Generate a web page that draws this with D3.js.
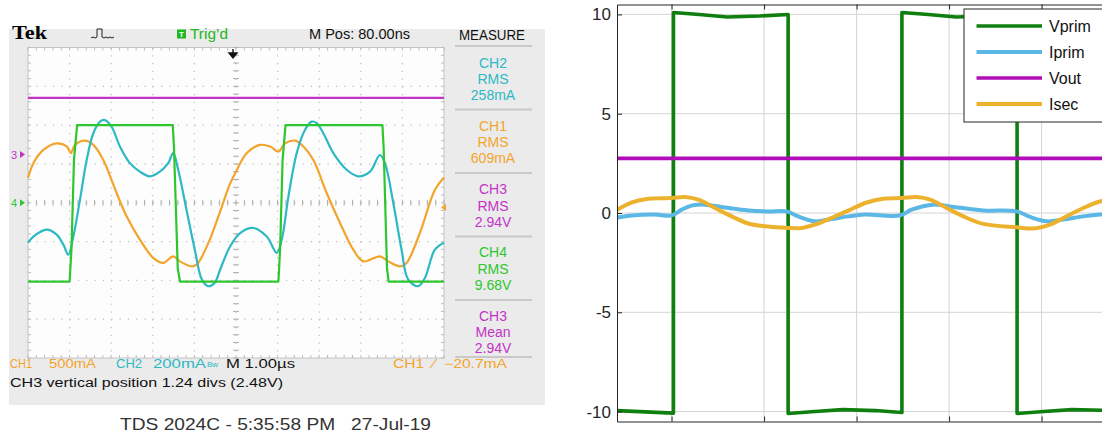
<!DOCTYPE html>
<html>
<head>
<meta charset="utf-8">
<script src="https://cdn.jsdelivr.net/npm/d3@7.9.0/dist/d3.min.js"></script>
<style>
  body { margin: 0; background: #fff; }
  svg { display: block; font-family: "Liberation Sans", Arial, sans-serif; }
  .pre { white-space: pre; }
</style>
</head>
<body>
<svg id="chart" width="1102" height="433"></svg>
<script>
// ---------- scope screenshot (left), values in divisions ----------
const scopeCh3 = [[0, 2.7], [10, 2.7]];
const scopeCh4 = [[0, -2.03], [1.0, -2.03], [1.045, -1.2], [1.105, 1.1], [1.18, 2.0], [3.48, 2.0], [3.51, 1.4],
  [3.6, -1.7], [3.655, -2.03], [6.02, -2.03], [6.06, -1.2], [6.12, 1.1], [6.19, 2.0], [8.52, 2.0], [8.55, 1.4],
  [8.63, -1.7], [8.67, -2.03], [10, -2.03]];
const scopeCh1 = [[0, 0.64], [0.13, 1.02], [0.37, 1.36], [0.69, 1.53], [0.93, 1.45], [1.03, 1.28], [1.13, 1.49],
  [1.37, 1.6], [1.57, 1.49], [1.81, 1.1], [2.13, 0.25], [2.37, -0.35], [2.69, -0.95], [3.01, -1.42], [3.25, -1.55],
  [3.49, -1.38], [3.65, -1.51], [3.97, -1.64], [4.09, -1.55], [4.37, -0.95], [4.62, -0.22], [4.86, 0.5], [5.0, 0.8],
  [5.26, 1.28], [5.58, 1.49], [5.82, 1.45], [6.02, 1.32], [6.18, 1.53], [6.42, 1.6], [6.62, 1.45], [6.86, 1.1],
  [7.18, 0.25], [7.5, -0.52], [7.82, -1.21], [8.06, -1.51], [8.46, -1.38], [8.66, -1.51], [8.94, -1.64], [9.1, -1.55],
  [9.42, -0.78], [9.78, 0.33], [10, 0.65]];
const scopeCh2 = [[0, -1.03], [0.13, -0.87], [0.45, -0.69], [0.69, -0.82], [0.85, -1.08], [0.97, -1.34], [1.09, -0.87],
  [1.25, 0.08], [1.41, 1.1], [1.57, 1.79], [1.73, 2.09], [1.85, 2.13], [2.01, 1.96], [2.21, 1.45], [2.45, 1.02],
  [2.69, 0.8], [2.93, 0.68], [3.17, 0.8], [3.37, 1.02], [3.49, 1.28], [3.61, 0.85], [3.81, -0.18], [4.01, -1.21],
  [4.18, -1.98], [4.33, -2.15], [4.49, -2.06], [4.62, -1.72], [4.86, -1.12], [5.1, -0.78], [5.42, -0.65], [5.74, -0.87],
  [5.98, -1.29], [6.1, -0.95], [6.26, 0.16], [6.46, 1.28], [6.66, 1.88], [6.82, 2.09], [6.94, 2.05], [7.1, 1.79],
  [7.34, 1.28], [7.66, 0.85], [7.94, 0.68], [8.22, 0.8], [8.46, 1.23], [8.58, 1.02], [8.78, 0], [8.98, -1.21],
  [9.14, -1.98], [9.38, -2.15], [9.54, -1.94], [9.78, -1.21], [10, -1.03]];

const measureChannels = ["CH2", "CH1", "CH3", "CH4", "CH3"];
const measureKinds = ["RMS", "RMS", "RMS", "RMS", "Mean"];
const measureValues = ["258mA", "609mA", "2.94V", "9.68V", "2.94V"];

// ---------- simulation (right), time in us ----------
const simVprim = [[0.82, -9.95], [2.04, -10.08], [2.04, 10.1], [2.6, 10.0], [3.2, 9.87], [3.9, 9.92], [4.52, 10.0],
  [4.52, -10.1], [5.1, -10.0], [5.7, -9.9], [6.4, -9.95], [6.98, -10.05], [6.98, 10.1], [7.55, 10.0], [8.15, 9.87],
  [8.85, 9.92], [9.47, 10.0], [9.47, -10.1], [10.05, -10.0], [10.65, -9.9], [11.6, -9.95]];
const simIprim = [[0.78, -0.25], [1.14, -0.13], [1.64, -0.08], [2.0, -0.12], [2.22, 0.17], [2.43, 0.37], [2.72, 0.42],
  [3.15, 0.28], [3.66, 0.13], [4.09, 0.08], [4.49, 0.08], [4.74, -0.17], [5.1, -0.42], [5.46, -0.3], [5.82, -0.17],
  [6.18, -0.08], [6.94, -0.12], [7.19, 0.17], [7.66, 0.42], [8.02, 0.33], [8.74, 0.13], [9.46, 0.08], [9.75, -0.2],
  [10.11, -0.42], [10.47, -0.33], [10.9, -0.17], [11.26, -0.08], [11.6, -0.05]];
const simVout = [[0.82, 2.75], [11.6, 2.75]];
const simIsec = [[0.82, 0.15], [1.14, 0.53], [1.5, 0.72], [2.0, 0.75], [2.29, 0.8], [2.58, 0.67], [2.94, 0.25],
  [3.3, -0.17], [3.66, -0.53], [4.02, -0.67], [4.52, -0.75], [4.81, -0.75], [5.1, -0.58], [5.46, -0.25], [5.82, 0.12],
  [6.22, 0.53], [6.58, 0.72], [6.98, 0.75], [7.3, 0.8], [7.59, 0.67], [7.95, 0.25], [8.31, -0.17], [8.74, -0.55],
  [9.46, -0.72], [9.82, -0.78], [10.18, -0.58], [10.54, -0.17], [10.9, 0.25], [11.26, 0.58], [11.6, 0.75]];
const seriesNames = ["Vprim", "Iprim", "Vout", "Isec"];
const yTicks = [-10, -5, 0, 5, 10];
const xTicks = [2, 4, 6, 8, 10];

// ---------- colours ----------
const scopeColor = { CH1: "#f3a42c", CH2: "#2cb9c4", CH3: "#c234c6", CH4: "#2ec62e" };
const simColor = { Vprim: "#0f7f0f", Iprim: "#5bb8e6", Vout: "#b00cb8", Isec: "#ecb22e" };

const svg = d3.select("#chart");

// ================= LEFT: scope =================
const sx = d3.scaleLinear().domain([0, 10]).range([28, 444]);
const sy = d3.scaleLinear().domain([-4, 4]).range([358, 47.5]);

svg.append("rect").attr("x", 9).attr("y", 29).attr("width", 536).attr("height", 376).attr("fill", "#ebebeb");
svg.append("rect").attr("x", sx(0)).attr("y", sy(4)).attr("width", sx(10) - sx(0)).attr("height", sy(-4) - sy(4))
  .attr("fill", "#fdfdfd").attr("stroke", "#c4c4c4");

const grat = svg.append("g");
const hStep = (sx(1) - sx(0)) / 5, vStep = (sy(-1) - sy(0)) / 5;
grat.selectAll(".vd").data(d3.range(1, 10)).join("line")
  .attr("x1", d => sx(d)).attr("x2", d => sx(d)).attr("y1", sy(4)).attr("y2", sy(-4))
  .attr("stroke", d => d === 5 ? "#a8a8a8" : "#bdbdbd").attr("stroke-width", 1.2)
  .attr("stroke-dasharray", `1.2 ${vStep - 1.2}`);
grat.selectAll(".hd").data(d3.range(-3, 4)).join("line")
  .attr("y1", d => sy(d)).attr("y2", d => sy(d)).attr("x1", sx(0)).attr("x2", sx(10))
  .attr("stroke", d => d === 0 ? "#a8a8a8" : "#bdbdbd").attr("stroke-width", 1.2)
  .attr("stroke-dasharray", `1.2 ${hStep - 1.2}`);
// minor ticks on centre lines and frame
const minorX = d3.range(0, 10.001, 0.2), minorY = d3.range(-4, 4.001, 0.2);
grat.selectAll(".cx").data(minorX).join("line")
  .attr("x1", d => sx(d)).attr("x2", d => sx(d)).attr("y1", sy(0) - 3).attr("y2", sy(0) + 3)
  .attr("stroke", "#b0b0b0");
grat.selectAll(".cy").data(minorY).join("line")
  .attr("y1", d => sy(d)).attr("y2", d => sy(d)).attr("x1", sx(5) - 3).attr("x2", sx(5) + 3)
  .attr("stroke", "#b0b0b0");
grat.selectAll(".tx").data(minorX).join("line")
  .attr("x1", d => sx(d)).attr("x2", d => sx(d)).attr("y1", sy(4)).attr("y2", sy(4) + 3).attr("stroke", "#bcbcbc");
grat.selectAll(".bx").data(minorX).join("line")
  .attr("x1", d => sx(d)).attr("x2", d => sx(d)).attr("y1", sy(-4)).attr("y2", sy(-4) - 3).attr("stroke", "#bcbcbc");
grat.selectAll(".ly").data(minorY).join("line")
  .attr("y1", d => sy(d)).attr("y2", d => sy(d)).attr("x1", sx(0)).attr("x2", sx(0) + 3).attr("stroke", "#bcbcbc");
grat.selectAll(".ry").data(minorY).join("line")
  .attr("y1", d => sy(d)).attr("y2", d => sy(d)).attr("x1", sx(10)).attr("x2", sx(10) - 3).attr("stroke", "#bcbcbc");

const scopeLine = d3.line().x(d => sx(d[0])).y(d => sy(d[1]));
const traces = [
  { data: scopeCh3, ch: "CH3", curve: d3.curveLinear },
  { data: scopeCh1, ch: "CH1", curve: d3.curveCatmullRom },
  { data: scopeCh2, ch: "CH2", curve: d3.curveCatmullRom },
  { data: scopeCh4, ch: "CH4", curve: d3.curveLinear }
];
svg.append("g").selectAll("path").data(traces).join("path")
  .attr("d", d => scopeLine.curve(d.curve)(d.data))
  .attr("fill", "none").attr("stroke", d => scopeColor[d.ch]).attr("stroke-width", 2.2)
  .attr("stroke-linejoin", "round");

// header
svg.append("text").attr("x", 12).attr("y", 39).attr("font-family", "Liberation Serif, serif").attr("font-weight", "bold")
  .attr("font-size", 19).attr("textLength", 35).attr("lengthAdjust", "spacingAndGlyphs").text("Tek");
svg.append("path").attr("d", "M91,38 l2,-1 l2,1 l2,-1 v-8 h5 v8 l2,1 l2,-1 l2,1 l2,-1 l2,1 l2,-1")
  .attr("fill", "none").attr("stroke", "#222").attr("stroke-width", 1);
svg.append("rect").attr("x", 177).attr("y", 29.5).attr("width", 9).attr("height", 9).attr("fill", "#1fb81f");
svg.append("text").attr("x", 181.5).attr("y", 37).attr("text-anchor", "middle").attr("font-size", 8)
  .attr("font-weight", "bold").attr("fill", "#fff").text("T");
svg.append("text").attr("x", 190).attr("y", 39).attr("font-size", 14).attr("fill", "#22b822")
  .attr("textLength", 38).attr("lengthAdjust", "spacingAndGlyphs").text("Trig’d");
svg.append("text").attr("x", 309).attr("y", 39).attr("font-size", 14).attr("fill", "#111")
  .attr("textLength", 101).attr("lengthAdjust", "spacingAndGlyphs").text("M Pos: 80.00ns");
svg.append("path").attr("d", "M233,49 v4 M229,53 L237,53 L233,58 Z").attr("stroke", "#111").attr("fill", "#111")
  .attr("stroke-width", 1.4);

// channel markers
svg.append("text").attr("x", 11).attr("y", sy(1.24) + 4).attr("font-size", 11).attr("fill", scopeColor.CH3).text("3");
svg.append("path").attr("d", `M20,${sy(1.24) - 3.5} l5,3.5 l-5,3.5 Z`).attr("fill", scopeColor.CH3);
svg.append("text").attr("x", 11).attr("y", sy(0) + 4).attr("font-size", 11).attr("fill", scopeColor.CH4).text("4");
svg.append("path").attr("d", `M20,${sy(0) - 3.5} l5,3.5 l-5,3.5 Z`).attr("fill", scopeColor.CH4);
svg.append("path").attr("d", `M446,${sy(-0.12) - 3.5} l-5,3.5 l5,3.5 Z`).attr("fill", scopeColor.CH1);

// measure column
svg.append("text").attr("x", 492).attr("y", 40).attr("text-anchor", "middle").attr("font-size", 14)
  .attr("fill", "#111").attr("textLength", 66).attr("lengthAdjust", "spacingAndGlyphs").text("MEASURE");
const sepY = [46, 109.5, 173, 236.5, 300, 357];
svg.append("g").selectAll("line").data(sepY).join("line")
  .attr("x1", 455).attr("x2", 532).attr("y1", d => d).attr("y2", d => d)
  .attr("stroke", "#c9c9c9").attr("stroke-width", 2);
const blocks = svg.append("g").selectAll("g").data(measureChannels).join("g")
  .attr("transform", (d, i) => `translate(493,${46 + i * 63.3})`)
  .attr("fill", d => scopeColor[d]).attr("font-size", 14).attr("text-anchor", "middle");
blocks.append("text").attr("y", 21.5).text(d => d);
blocks.append("text").attr("y", 38).text((d, i) => measureKinds[i]);
blocks.append("text").attr("y", 54).text((d, i) => measureValues[i]);

// status lines
const status = svg.append("g").attr("font-size", 12);
status.append("text").attr("x", 10).attr("y", 368).attr("fill", scopeColor.CH1)
  .attr("textLength", 22).attr("lengthAdjust", "spacingAndGlyphs").text("CH1");
status.append("text").attr("x", 49).attr("y", 368).attr("fill", scopeColor.CH1)
  .attr("textLength", 47).attr("lengthAdjust", "spacingAndGlyphs").text("500mA");
status.append("text").attr("x", 116).attr("y", 368).attr("fill", scopeColor.CH2)
  .attr("textLength", 26).attr("lengthAdjust", "spacingAndGlyphs").text("CH2");
status.append("text").attr("x", 153).attr("y", 368).attr("fill", scopeColor.CH2)
  .attr("textLength", 53).attr("lengthAdjust", "spacingAndGlyphs").text("200mA");
status.append("text").attr("x", 207).attr("y", 367).attr("fill", scopeColor.CH2).attr("font-size", 8)
  .text("Bw");
status.append("text").attr("x", 226).attr("y", 368).attr("fill", "#111")
  .attr("textLength", 69).attr("lengthAdjust", "spacingAndGlyphs").text("M 1.00µs");
status.append("text").attr("x", 393).attr("y", 368).attr("fill", scopeColor.CH1).attr("class", "pre")
  .attr("textLength", 114).attr("lengthAdjust", "spacingAndGlyphs").text("CH1  ⁄  −20.7mA");
status.append("text").attr("x", 10).attr("y", 387).attr("fill", "#111")
  .attr("textLength", 273).attr("lengthAdjust", "spacingAndGlyphs").text("CH3 vertical position 1.24 divs (2.48V)");

svg.append("text").attr("x", 275.5).attr("y", 430).attr("text-anchor", "middle").attr("font-size", 17)
  .attr("fill", "#333").attr("class", "pre").attr("textLength", 311).attr("lengthAdjust", "spacingAndGlyphs")
  .text("TDS 2024C - 5:35:58 PM   27-Jul-19");

// ================= RIGHT: simulation =================
const px = d3.scaleLinear().domain([0.82, 12]).range([617, 1134.1]);
const py = d3.scaleLinear().domain([-10.5, 10.5]).range([421.5, 4.5]);
const plot = svg.append("g");

plot.append("rect").attr("x", px(0.82)).attr("y", py(10.5)).attr("width", px(12) - px(0.82))
  .attr("height", py(-10.5) - py(10.5)).attr("fill", "#fff");
plot.append("g").selectAll("line").data(xTicks).join("line")
  .attr("x1", d => px(d)).attr("x2", d => px(d)).attr("y1", py(10.5)).attr("y2", py(-10.5))
  .attr("stroke", "#d4d4d4");
plot.append("g").selectAll("line").data(yTicks).join("line")
  .attr("y1", d => py(d)).attr("y2", d => py(d)).attr("x1", px(0.82)).attr("x2", px(12))
  .attr("stroke", "#d4d4d4");

plot.append("clipPath").attr("id", "plotClip").append("rect")
  .attr("x", px(0.82)).attr("y", py(10.5)).attr("width", px(12) - px(0.82)).attr("height", py(-10.5) - py(10.5));

const simLine = d3.line().x(d => px(d[0])).y(d => py(d[1]));
const simSeries = [
  { name: "Vprim", data: simVprim, curve: d3.curveLinear, w: 3.6 },
  { name: "Iprim", data: simIprim, curve: d3.curveCatmullRom, w: 4 },
  { name: "Vout", data: simVout, curve: d3.curveLinear, w: 3.6 },
  { name: "Isec", data: simIsec, curve: d3.curveCatmullRom, w: 4 }
];
plot.append("g").attr("clip-path", "url(#plotClip)").selectAll("path").data(simSeries).join("path")
  .attr("d", d => simLine.curve(d.curve)(d.data))
  .attr("fill", "none").attr("stroke", d => simColor[d.name]).attr("stroke-width", d => d.w)
  .attr("stroke-linejoin", "round");

const axisCol = "#262626";
plot.append("g").attr("transform", `translate(${px(0.82)},0)`)
  .call(d3.axisLeft(py).tickValues(yTicks).tickSize(-5).tickSizeOuter(0).tickPadding(6).tickFormat(d => String(d)))
  .call(g => g.selectAll("text").attr("font-size", 17).attr("font-family", "Liberation Sans, Arial, sans-serif")
    .attr("fill", axisCol))
  .call(g => g.selectAll("line,path").attr("stroke", axisCol));
plot.append("g").attr("transform", `translate(0,${py(-10.5)})`)
  .call(d3.axisBottom(px).tickValues(xTicks).tickSize(-5).tickSizeOuter(0).tickFormat(""))
  .call(g => g.selectAll("line,path").attr("stroke", axisCol));
plot.append("g").attr("transform", `translate(0,${py(10.5)})`)
  .call(d3.axisTop(px).tickValues(xTicks).tickSize(-5).tickSizeOuter(0).tickFormat(""))
  .call(g => g.selectAll("line,path").attr("stroke", axisCol));

// legend
const legend = plot.append("g").attr("transform", "translate(964,9)");
legend.append("rect").attr("width", 160).attr("height", 113).attr("fill", "#fff").attr("stroke", axisCol);
const items = legend.selectAll(".item").data(seriesNames).join("g")
  .attr("transform", (d, i) => `translate(0,${17 + i * 26})`);
items.append("line").attr("x1", 12.5).attr("x2", 78).attr("stroke", d => simColor[d])
  .attr("stroke-width", (d, i) => simSeries[i].w);
items.append("text").attr("x", 85).attr("dy", "0.35em").attr("font-size", 16).attr("fill", "#111").text(d => d);
</script>
</body>
</html>
